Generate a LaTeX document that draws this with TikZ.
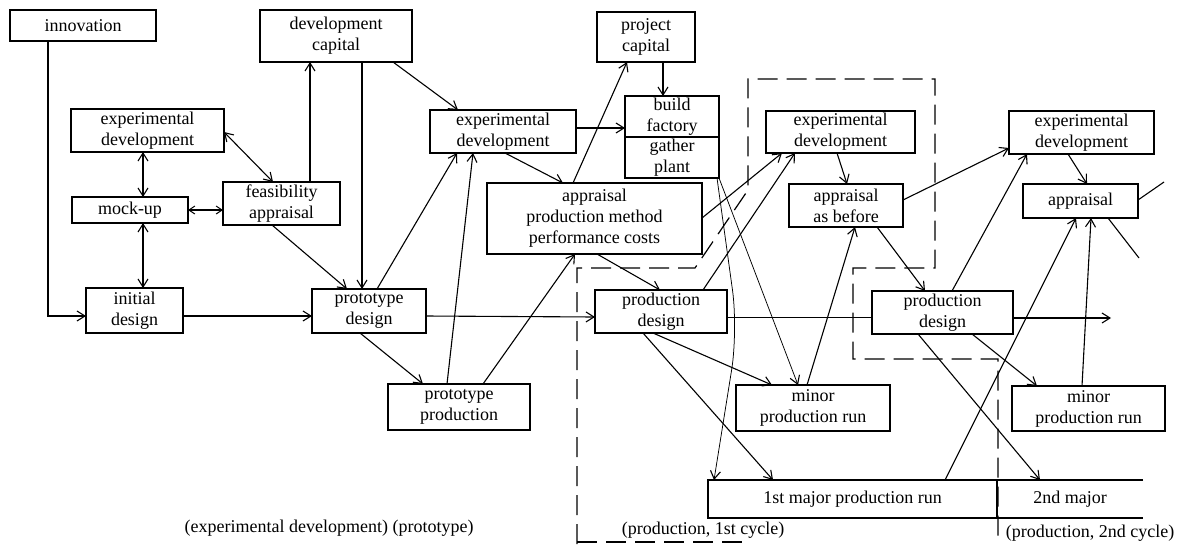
\documentclass[tikz,border=0pt]{standalone}
\usepackage{fontspec}
\setmainfont{Liberation Serif}
\usetikzlibrary{arrows.meta}
\begin{document}
\begin{tikzpicture}[x=1pt,y=-1pt,
  box/.style={draw,line width=1.3pt,rectangle,inner sep=0pt,outer sep=0pt,align=center,
    font=\fontsize{18}{21}\selectfont},
  plain/.style={inner sep=0pt,outer sep=0pt,font=\fontsize{18}{21}\selectfont},
  conn/.style={line width=1.1pt},
  thinconn/.style={line width=0.75pt},
  harrow/.style={-{Straight Barb[length=8pt,width=10pt,line width=1.1pt]}},
  dblarrow/.style={{Straight Barb[length=8pt,width=10pt,line width=1.1pt]}-{Straight Barb[length=8pt,width=10pt,line width=1.1pt]}},
  smalldbl/.style={{Straight Barb[length=6pt,width=8pt,line width=1pt]}-{Straight Barb[length=6pt,width=8pt,line width=1pt]}},
  dashline/.style={line width=1.2pt,dash pattern=on 20pt off 9pt}
]
\useasboundingbox (0,0) rectangle (1185,544);
\fill[white] (0,0) rectangle (1185,544);

% ---------- nodes ----------
\node[box,minimum width=146pt,minimum height=31pt] (innov) at (83,25.5) {innovation};
\node[box,minimum width=152pt,minimum height=52pt] (devcap) at (336,36) {development\\capital};
\node[box,minimum width=153pt,minimum height=43pt] (expL) at (147.5,130.5) {experimental\\development};
\node[box,minimum width=116pt,minimum height=26pt] (mock) at (130,210) {mock-up};
\node[box,minimum width=117pt,minimum height=43pt] (feas) at (281.5,203.5) {feasibility\\appraisal};
\node[box,minimum width=97pt,minimum height=45pt] (init) at (134.5,310.5) {initial\\design};
\node[box,minimum width=114pt,minimum height=44pt] (protoD) at (369,311) {prototype\\design};
\node[box,minimum width=142pt,minimum height=46pt] (protoP) at (459,407) {prototype\\production};
\node[box,minimum width=146pt,minimum height=43pt] (expM) at (503,131.5) {experimental\\development};
\node[box,minimum width=98pt,minimum height=50pt] (projcap) at (646,37) {project\\capital};
\node[box,minimum width=94pt,minimum height=41pt] (buildA) at (672,116.5) {build\\factory};
\node[box,minimum width=94pt,minimum height=41pt] (buildB) at (672,157.5) {gather\\plant};
\node[box,minimum width=215pt,minimum height=71pt] (appr) at (594.5,218.5) {appraisal\\production method\\performance costs};
\node[box,minimum width=149pt,minimum height=42pt] (expR1) at (840.5,132) {experimental\\development};
\node[box,minimum width=114pt,minimum height=43pt] (apprB) at (846,205.5) {appraisal\\as before};
\node[box,minimum width=132pt,minimum height=43pt] (prodD1) at (661,311.5) {production\\design};
\node[box,minimum width=141pt,minimum height=43pt] (prodD2) at (942.5,312.5) {production\\design};
\node[box,minimum width=154pt,minimum height=46pt] (minor1) at (813,408) {minor\\production run};
\node[box,minimum width=153pt,minimum height=45pt] (minor2) at (1088.5,408.5) {minor\\production run};
\node[box,minimum width=145pt,minimum height=43pt] (expR2) at (1081.5,132.5) {experimental\\development};
\node[box,minimum width=115pt,minimum height=34pt] (apprR2) at (1080.5,201) {appraisal};
\node[plain,minimum width=289pt,minimum height=38pt] (major1) at (852.5,499) {1st major production run};
\node[plain,minimum width=146pt,minimum height=38pt] (major2) at (1070,499) {2nd major};

\node[plain] (lblA) at (329,528) {(experimental development) (prototype)};
\node[plain] (lblB) at (703,530) {(production, 1st cycle)};
\node[plain] (lblC) at (1090,533) {(production, 2nd cycle)};

\coordinate (end1) at (1111,318);
\coordinate (end2) at (1164,182);
\coordinate (end3) at (1139,258);
\coordinate (bendA) at (738,330);

% open box of the major runs
\draw[line width=1.3pt] (major2.north east) -- (major1.north west) -- (major1.south west) -- (major2.south east);
\draw[line width=1.3pt] (major1.north east) -- (major1.south east);

% ---------- dashed enclosures ----------
\draw[dashline] (577,544) -- (577,268) -- (695,268) -- (748,190) -- (748,79) -- (935,79)
  -- (935,268) -- (853,268) -- (853,359) -- (998,359) -- (998,544);
\draw[dashline] (577,542) -- (745,542);

% ---------- connectors ----------
\draw[conn,harrow] ([xshift=38pt]innov.south west) |- ([yshift=-28pt]init.north west);
\draw[conn,dblarrow] ([xshift=72pt]expL.south west) -- ([xshift=71pt]mock.north west);
\draw[conn,dblarrow] ([xshift=71pt]mock.south west) -- ([xshift=57pt]init.north west);
\draw[conn,smalldbl] (mock.east) -- (mock.east -| feas.west);
\draw[conn,dblarrow] ([yshift=-23pt]expL.north east) -- ([xshift=50pt]feas.north west);
\draw[conn,harrow] ([xshift=87pt]feas.north west) -- ([xshift=50pt]devcap.south west);
\draw[conn,harrow] ([xshift=102pt]devcap.south west) -- ([xshift=50pt]protoD.north west);
\draw[conn,harrow] ([xshift=49pt]feas.south west) -- ([xshift=35pt]protoD.north west);
\draw[conn,harrow] ([yshift=-28pt]init.north east) -- ([yshift=-27pt]protoD.north west);
\draw[conn,harrow] ([xshift=65pt]protoD.north west) -- ([xshift=27pt]expM.south west);
\draw[conn,harrow] ([xshift=48pt]protoD.south west) -- ([xshift=35pt]protoP.north west);
\draw[conn,harrow] ([xshift=59pt]protoP.north west) -- ([xshift=43pt]expM.south west);
\draw[conn,harrow] ([xshift=95pt]protoP.north west) -- ([xshift=88pt]appr.south west);
\draw[conn,harrow] ([xshift=133pt]devcap.south west) -- ([xshift=28pt]expM.north west);
\draw[conn,harrow] ([yshift=-18pt]expM.north east) -- ([yshift=-32pt]buildA.north west);
\draw[conn,harrow] ([xshift=75pt]expM.south west) -- ([xshift=76pt]appr.north west);
\draw[conn,harrow] ([xshift=86pt]appr.north west) -- ([xshift=30pt]projcap.south west);
\draw[conn,harrow] ([xshift=66pt]projcap.south west) -- ([xshift=38pt]buildA.north west);
\draw[conn,harrow] ([yshift=-35pt]appr.north east) -- ([xshift=16pt]expR1.south west);
\draw[conn,harrow] ([xshift=110pt]appr.south west) -- ([xshift=65pt]prodD1.north west);
\draw[conn,harrow] ([yshift=-27pt]protoD.north east) -- ([yshift=-27pt]prodD1.north west);
\draw[conn,harrow] ([xshift=108pt]prodD1.north west) -- ([xshift=29pt]expR1.south west);
\draw[thinconn,harrow,rounded corners=40pt] ([xshift=-2pt]buildB.south east) -- (bendA) -- ([xshift=6pt]major1.north west);
\draw[thinconn,harrow] (buildB.south east) -- ([xshift=62pt]minor1.north west);
\draw[conn,harrow] ([xshift=71pt]minor1.north west) -- ([xshift=66pt]apprB.south west);
\draw[conn,harrow] ([xshift=71pt]expR1.south west) -- ([xshift=58pt]apprB.north west);
\draw[conn,harrow] ([xshift=88pt]apprB.south west) -- ([xshift=53pt]prodD2.north west);
\draw[conn,harrow] ([yshift=-16pt]apprB.north east) -- ([yshift=-37pt]expR2.north west);
\draw[thinconn] ([yshift=-27pt]prodD1.north east) -- ([yshift=-26pt]prodD2.north west);
\draw[conn,harrow] ([xshift=58pt]prodD1.south west) -- ([xshift=36pt]minor1.north west);
\draw[conn,harrow] ([xshift=48pt]prodD1.south west) -- ([xshift=65pt]major1.north west);
\draw[conn,harrow] ([xshift=80pt]prodD2.north west) -- ([xshift=18pt]expR2.south west);
\draw[conn,harrow] ([yshift=-27pt]prodD2.north east) -- (end1);
\draw[conn,harrow] ([xshift=100pt]prodD2.south west) -- ([xshift=25pt]minor2.north west);
\draw[conn,harrow] ([xshift=46pt]prodD2.south west) -- ([xshift=43pt]major2.north west);
\draw[conn,harrow] ([xshift=237pt]major1.north west) -- ([xshift=53pt]apprR2.south west);
\draw[conn,harrow] ([xshift=70pt]minor2.north west) -- ([xshift=68pt]apprR2.south west);
\draw[conn,harrow] ([xshift=59pt]expR2.south west) -- ([xshift=64pt]apprR2.north west);
\draw[conn] ([yshift=-16pt]apprR2.north east) -- (end2);
\draw[conn] ([xshift=85pt]apprR2.south west) -- (end3);
\end{tikzpicture}
\end{document}
